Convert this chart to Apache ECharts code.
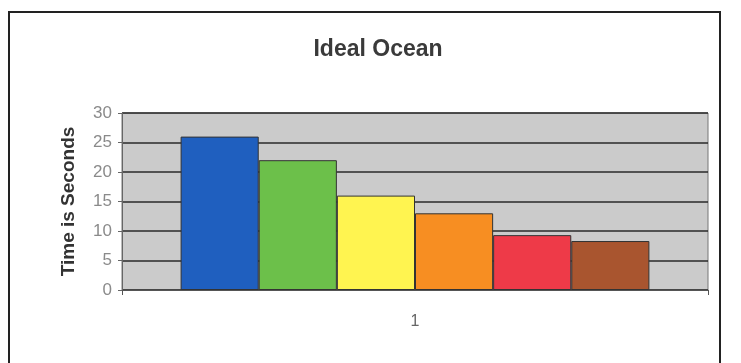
<!DOCTYPE html>
<html><head><meta charset="utf-8">
<script src="https://cdn.jsdelivr.net/npm/echarts@6/dist/echarts.min.js"></script>
<style>html,body{margin:0;padding:0;background:#fff}#c{width:741px;height:363px}</style>
</head><body><div id="c"></div>
<script>
const categories = ['1'];
const seriesNames = ['S1', 'S2', 'S3', 'S4', 'S5', 'S6'];
const seriesValues = [26, 22, 16, 13, 9.3, 8.3];
const yTicks = [0, 5, 10, 15, 20, 25, 30];
const barColors = ['#1f5fbf', '#6cc04a', '#fff450', '#f78e22', '#ee3a48', '#a9552f'];

const chart = echarts.init(document.getElementById('c'), null, {renderer: 'canvas'});
chart.setOption({
  animation: false,
  backgroundColor: '#fff',
  title: {
    text: 'Ideal Ocean', left: 373, top: 33, textAlign: 'center',
    textStyle: {fontFamily: 'Liberation Sans, Arial', fontSize: 23, fontWeight: 'bold', color: '#3a3a3a'}
  },
  graphic: [{
    type: 'rect', shape: {x: 9, y: 12, width: 711, height: 380},
    style: {fill: 'none', stroke: '#222', lineWidth: 2}, silent: true, z: 100
  }],
  grid: {left: 122, right: 33, top: 113, bottom: 73, show: true,
    backgroundColor: '#cbcbcb', borderColor: '#777', borderWidth: 1},
  xAxis: {
    type: 'category', data: categories,
    axisLine: {lineStyle: {color: '#555'}},
    axisTick: {show: true, alignWithLabel: false, lineStyle: {color: '#555'}},
    axisLabel: {color: '#666', fontSize: 16, margin: 24, fontFamily: 'Liberation Sans, Arial'}
  },
  yAxis: {
    type: 'value', min: yTicks[0], max: yTicks[yTicks.length - 1], interval: 5,
    name: 'Time is Seconds', nameLocation: 'middle', nameGap: 44,
    nameTextStyle: {fontFamily: 'Liberation Sans, Arial', fontSize: 19, fontWeight: 'bold', color: '#333'},
    axisLine: {show: true, lineStyle: {color: '#666'}},
    axisTick: {show: true, length: 4, lineStyle: {color: '#666'}},
    axisLabel: {color: '#8a8a8a', fontSize: 17, margin: 10, fontFamily: 'Liberation Sans, Arial'},
    splitLine: {show: true, lineStyle: {color: '#2a2a2a', width: 1.5}}
  },
  series: seriesNames.map((n, i) => ({
    name: n, type: 'bar', data: [seriesValues[i]],
    barGap: '0%', barCategoryGap: '20%',
    itemStyle: {color: barColors[i], borderColor: '#333', borderWidth: 1}
  }))
});
</script></body></html>
